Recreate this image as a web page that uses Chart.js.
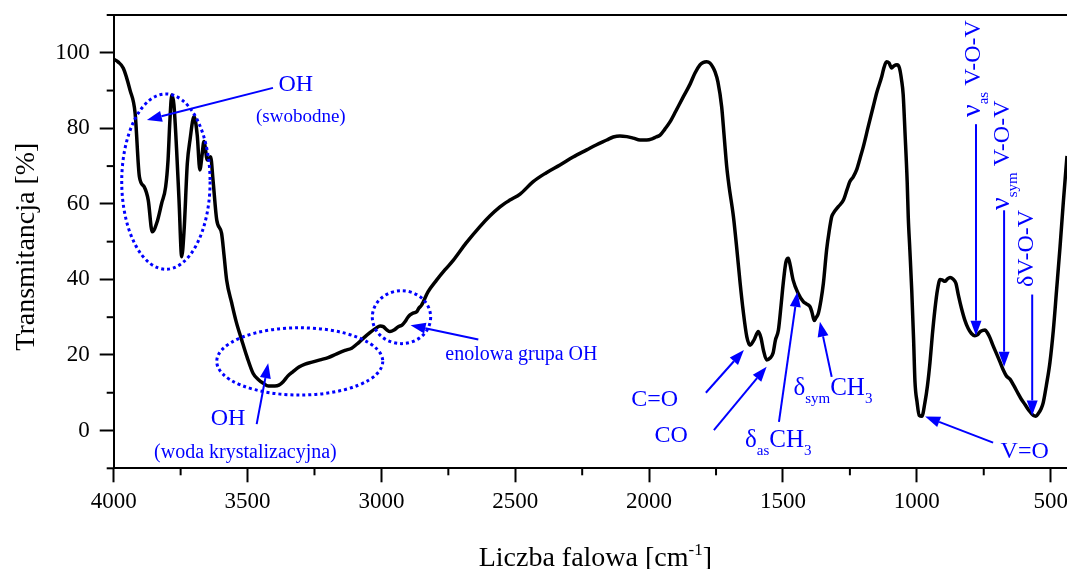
<!DOCTYPE html>
<html><head><meta charset="utf-8">
<script src="https://cdn.jsdelivr.net/npm/chart.js@4/dist/chart.umd.min.js"></script>
<style>html,body{margin:0;padding:0;background:#fff;overflow:hidden}#wrap{width:1067px;height:569px;position:relative}</style>
</head><body><div id="wrap"><canvas id="c"></canvas></div>
<script>
// ---- data ----
const wavenumbers = [4000,3984,3964,3939,3920,3904,3886,3871,3856,3838,3821,3806,3797,3790,3783,3775,3765,3756,3746,3737,3725,3715,3700,3688,3678,3670,3663,3650,3638,3629,3615,3597,3588,3578,3559,3542,3522,3502,3479,3461,3441,3422,3398,3383,3367,3350,3330,3308,3285,3259,3229,3199,3167,3136,3111,3091,3068,3043,3020,3005,2993,2979,2968,2953,2937,2923,2912,2901,2893,2882,2869,2860,2850,2826,2794,2763,2731,2684,2632,2595,2557,2538,2520,2482,2433,2385,2333,2284,2233,2198,2158,2134,2109,2083,2059,2034,2009,1989,1974,1959,1941,1922,1900,1872,1847,1829,1810,1799,1785,1773,1762,1754,1743,1729,1720,1710,1702,1685,1672,1660,1649,1635,1623,1608,1592,1582,1573,1561,1548,1537,1528,1517,1507,1499,1489,1480,1474,1462,1443,1424,1414,1399,1392,1383,1377,1368,1358,1349,1337,1328,1318,1312,1294,1274,1261,1250,1238,1225,1212,1200,1182,1163,1149,1131,1123,1113,1104,1094,1086,1074,1065,1057,1051,1044,1036,1032,1026,1019,1012,1007,999,991,981,970,960,951,942,932,923,913,904,895,886,876,865,854,845,833,821,808,796,783,774,764,753,745,736,727,716,702,689,677,665,652,637,621,609,596,581,565,555,546,536,528,516,503,490,478,465,453,439];
const transmittance = [98.3,97.6,95.9,90.1,84.0,67.2,64.5,61.0,52.6,55.2,60.1,64.5,71.6,82.2,88.8,86.2,74.3,61.0,46.0,53.1,70.7,76.9,83.1,78.2,69.0,72.9,76.5,71.6,72.5,66.3,55.7,52.2,46.5,39.8,33.7,28.7,24.0,19.5,15.1,13.6,12.5,11.8,11.8,12.0,12.9,14.4,15.6,16.8,17.6,18.1,18.7,19.3,20.3,21.2,21.8,22.9,24.4,25.9,27.1,27.7,27.5,26.6,26.2,26.6,27.5,27.9,28.8,30.0,30.6,31.1,31.4,32.4,33.2,36.7,39.8,42.5,45.1,49.6,54.0,56.8,59.2,60.2,61.0,62.6,65.9,68.2,70.3,72.4,74.3,75.6,76.9,77.7,78.0,77.8,77.4,76.9,76.9,77.2,77.7,78.2,79.8,81.7,84.6,88.4,91.7,94.6,96.8,97.4,97.6,97.3,96.2,95.0,92.3,85.7,78.2,69.8,65.0,56.6,47.8,39.0,31.9,24.8,22.6,24.0,26.2,24.5,21.3,18.7,19.2,20.5,24.0,26.6,33.2,39.0,44.6,45.6,44.1,39.8,36.3,34.1,33.6,32.8,31.4,29.1,29.8,31.0,34.5,39.0,47.8,52.5,56.6,57.5,59.2,61.0,63.7,65.9,67.1,69.0,72.1,75.1,80.3,85.7,89.6,93.7,96.0,97.6,97.3,96.0,96.5,96.8,96.0,92.8,89.0,78.7,65.9,56.6,47.8,37.2,24.0,13.1,7.5,4.0,3.8,7.3,12.0,17.9,25.3,32.3,37.2,40.0,39.8,39.5,40.1,40.5,40.1,39.0,35.9,32.3,29.3,27.0,25.7,25.1,25.3,26.1,26.5,26.6,25.8,24.6,22.6,20.3,18.1,16.0,14.4,13.6,11.8,9.7,8.2,6.9,5.3,4.0,3.8,4.5,5.7,7.3,12.0,17.9,26.6,37.1,48.6,60.2,72.7];

const xTickValues = [4000,3500,3000,2500,2000,1500,1000,500];
const xMinorTickValues = [3750,3250,2750,2250,1750,1250,750];
const yTickValues = [0,20,40,60,80,100];
const yMinorTickValues = [-10,10,30,50,70,90,110];
const xRange = [439, 4000];
const yRange = [-10, 110];

const yTitle = 'Transmitancja [%]';
const xTitleParts = [{t:'Liczba falowa [cm'},{t:'-1',sup:true},{t:']'}];

// annotations (data coordinates)
const ellipses = [
  {x:3805, y:65.9, rx:165, ry:23.2},
  {x:3305, y:18.3, rx:310, ry:8.9},
  {x:2925, y:30.0, rx:109, ry:7.0}
];
const arrows = [
  {from:[3405,90.7], to:[3876,82.2]},
  {from:[3466,1.7], to:[3423,17.8]},
  {from:[2638,24.1], to:[2891,27.9]},
  {from:[1788,10.0], to:[1646,21.3]},
  {from:[1758,0.1], to:[1561,16.9]},
  {from:[1515,2.3], to:[1446,36.7]},
  {from:[1318,14.2], to:[1362,28.8]},
  {from:[715,-3.2], to:[969,3.7]},
  {from:[779,81.1], to:[779,25.1]},
  {from:[674,58.3], to:[674,16.9]},
  {from:[569,36.0], to:[569,4.0]}
];
const centeredLabels = [
  {text:'OH', x:3320, y:91.6, size:24},
  {text:'(swobodne)', x:3301, y:83.1, size:19},
  {text:'OH', x:3573, y:3.0, size:24},
  {text:'(woda krystalizacyjna)', x:3508, y:-5.9, size:20},
  {text:'enolowa grupa OH', x:2477, y:20.0, size:20},
  {text:'C=O', x:1979, y:8.1, size:24},
  {text:'CO', x:1918, y:-1.4, size:24},
  {text:'V=O', x:597, y:-5.6, size:24}
];
const richLabels = [
  {parts:[{t:'δ'},{t:'as',sub:true},{t:'CH'},{t:'3',sub:true}], x:1642, y:-4.3},
  {parts:[{t:'δ'},{t:'sym',sub:true},{t:'CH'},{t:'3',sub:true}], x:1461, y:9.4}
];
const verticalLabels = [
  {parts:[{t:'ν',size:28},{t:'as',sub:true},{t:' V-O-V'}], x:764, y:83.0},
  {parts:[{t:'ν',size:28},{t:'sym',sub:true},{t:' V-O-V'}], x:656, y:58.4},
  {parts:[{t:'δV-O-V'}], x:566, y:38.0}
];

const SERIF = "'Liberation Serif','Times New Roman',serif";
const BLUE = '#0000ff';

function partSize(p, size, subSize) { return p.size || ((p.sub||p.sup) ? subSize : size); }
function drawParts(ctx, parts, x, y, size, subSize, subDy, supDy) {
  let cx = x;
  parts.forEach(p => {
    ctx.font = partSize(p, size, subSize) + 'px ' + SERIF;
    ctx.fillText(p.t, cx, y + (p.sub ? subDy : (p.sup ? -supDy : 0)));
    cx += ctx.measureText(p.t).width;
  });
  return cx - x;
}
function partsWidth(ctx, parts, size, subSize) {
  return parts.reduce((s,p) => { ctx.font = partSize(p, size, subSize) + 'px ' + SERIF; return s + ctx.measureText(p.t).width; }, 0);
}
function drawArrow(ctx, x1, y1, x2, y2) {
  const head = 15, hw = 5.5;
  const a = Math.atan2(y2-y1, x2-x1);
  const bx = x2 - head*Math.cos(a), by = y2 - head*Math.sin(a);
  ctx.beginPath(); ctx.moveTo(x1,y1); ctx.lineTo(bx,by); ctx.stroke();
  ctx.beginPath(); ctx.moveTo(x2,y2);
  ctx.lineTo(bx + hw*Math.sin(a), by - hw*Math.cos(a));
  ctx.lineTo(bx - hw*Math.sin(a), by + hw*Math.cos(a));
  ctx.closePath(); ctx.fill();
}

const decor = {
  id: 'decor',
  afterDraw(chart) {
    const ctx = chart.ctx, xs = chart.scales.x, ys = chart.scales.y, ca = chart.chartArea;
    const X = v => xs.getPixelForValue(v), Y = v => ys.getPixelForValue(v);
    ctx.save();
    // frame top line
    ctx.strokeStyle = '#000'; ctx.lineWidth = 2;
    ctx.beginPath(); ctx.moveTo(ca.left, ca.top); ctx.lineTo(ca.right + 2, ca.top); ctx.stroke();
    // minor ticks
    xMinorTickValues.forEach(v => { const p = X(v); ctx.beginPath(); ctx.moveTo(p, ca.bottom); ctx.lineTo(p, ca.bottom + 7); ctx.stroke(); });
    yMinorTickValues.forEach(v => { const p = Y(v); ctx.beginPath(); ctx.moveTo(ca.left, p); ctx.lineTo(ca.left - 7, p); ctx.stroke(); });
    // axis titles
    ctx.fillStyle = '#000';
    ctx.textBaseline = 'alphabetic';
    ctx.save();
    ctx.translate(34, (ca.top + ca.bottom)/2 + 5);
    ctx.rotate(-Math.PI/2);
    ctx.font = '28px ' + SERIF; ctx.textAlign = 'center';
    ctx.fillText(yTitle, 0, 0);
    ctx.restore();
    ctx.textAlign = 'left';
    const tw = partsWidth(ctx, xTitleParts, 28, 17);
    drawParts(ctx, xTitleParts, (ca.left + ca.right)/2 + 5 - tw/2, 566, 28, 17, 0, 11);
    // annotations
    ctx.strokeStyle = BLUE; ctx.fillStyle = BLUE;
    ctx.lineWidth = 3; ctx.setLineDash([3,3]);
    ellipses.forEach(e => {
      ctx.beginPath();
      ctx.ellipse(X(e.x), Y(e.y), Math.abs(X(e.x+e.rx)-X(e.x)), Math.abs(Y(e.y+e.ry)-Y(e.y)), 0, 0, Math.PI*2);
      ctx.stroke();
    });
    ctx.setLineDash([]); ctx.lineWidth = 2;
    arrows.forEach(a => drawArrow(ctx, X(a.from[0]), Y(a.from[1]), X(a.to[0]), Y(a.to[1])));
    ctx.textAlign = 'center'; ctx.textBaseline = 'middle';
    centeredLabels.forEach(l => { ctx.font = l.size + 'px ' + SERIF; ctx.fillText(l.text, X(l.x), Y(l.y)); });
    ctx.textAlign = 'left'; ctx.textBaseline = 'alphabetic';
    richLabels.forEach(l => drawParts(ctx, l.parts, X(l.x), Y(l.y), 25, 15, 8, 0));
    verticalLabels.forEach(l => {
      ctx.save();
      ctx.translate(X(l.x), Y(l.y));
      ctx.rotate(-Math.PI/2);
      drawParts(ctx, l.parts, 0, 0, 24, 15, 8, 0);
      ctx.restore();
    });
    ctx.restore();
  }
};

new Chart(document.getElementById('c'), {
  type: 'line',
  data: {
    datasets: [{
      data: wavenumbers.map((w,i) => ({x: w, y: transmittance[i]})),
      borderColor: '#000', borderWidth: 3.5, pointRadius: 0,
      cubicInterpolationMode: 'monotone', fill: false
    }]
  },
  options: {
    responsive: true, maintainAspectRatio: false, animation: false,
    layout: {padding: {top: 15, left: 0, right: 0, bottom: 0}},
    plugins: {legend: {display: false}, tooltip: {enabled: false}},
    scales: {
      x: {
        type: 'linear', reverse: true, min: xRange[0], max: xRange[1],
        afterBuildTicks: s => { s.ticks = xTickValues.map(v => ({value: v})); },
        afterFit: s => { s.height = 100.7; s.paddingLeft = 0; s.paddingRight = 0; },
        ticks: {autoSkip: false, maxRotation: 0, padding: 6, color: '#000', font: {family: SERIF, size: 23}, callback: v => String(v)},
        grid: {display: true, drawOnChartArea: false, drawTicks: true, tickLength: 14, tickWidth: 2, tickColor: '#000'},
        border: {display: true, color: '#000', width: 2}
      },
      y: {
        type: 'linear', min: yRange[0], max: yRange[1],
        afterBuildTicks: s => { s.ticks = yTickValues.map(v => ({value: v})); },
        afterFit: s => { s.width = 113.7; s.paddingTop = 0; s.paddingBottom = 0; },
        ticks: {padding: 10, color: '#000', font: {family: SERIF, size: 23}, callback: v => String(v)},
        grid: {display: true, drawOnChartArea: false, drawTicks: true, tickLength: 14, tickWidth: 2, tickColor: '#000'},
        border: {display: true, color: '#000', width: 2}
      }
    }
  },
  plugins: [decor]
});
</script>
</body></html>
